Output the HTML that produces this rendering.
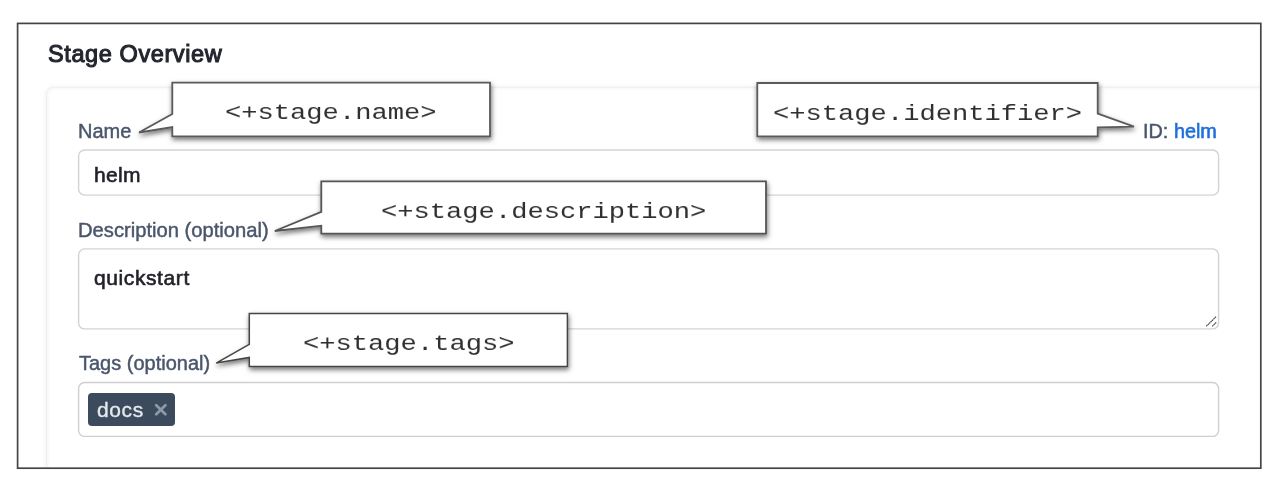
<!DOCTYPE html>
<html>
<head>
<meta charset="utf-8">
<style>
html,body{margin:0;padding:0;background:#fff;}
body{width:1278px;height:488px;position:relative;overflow:hidden;font-family:"Liberation Sans",sans-serif;}
.t{position:absolute;white-space:nowrap;line-height:1;will-change:transform;}
.h{font-size:23.5px;color:#23262f;left:48.1px;top:42.9px;letter-spacing:0.6px;-webkit-text-stroke:1.05px #23262f;}
.lbl{font-size:20px;color:#4a566c;-webkit-text-stroke:0.45px #4a566c;}
.val{font-size:21px;color:#22222a;letter-spacing:0.6px;-webkit-text-stroke:0.6px #22222a;}
.chip{position:absolute;left:88px;top:393.4px;width:87px;height:32.2px;background:#3b4a5c;border-radius:4px;}
.mono{font-family:"Liberation Mono",monospace;font-size:27.12px;color:#303030;transform:scaleY(0.8);transform-origin:0 20.7px;}
</style>
</head>
<body>
<svg width="1278" height="488" style="position:absolute;left:0;top:0;">
  <defs>
    <clipPath id="fc"><rect x="18.5" y="24.3" width="1241.4" height="443"/></clipPath>
    <filter id="cb" x="-5%" y="-5%" width="110%" height="110%"><feGaussianBlur stdDeviation="1.5"/></filter>
  </defs>
  <g clip-path="url(#fc)" fill="none">
    <rect x="46.5" y="87.3" width="1240" height="420" rx="7" stroke="#000" stroke-opacity="0.04" stroke-width="3" filter="url(#cb)"/>
    <rect x="46.5" y="87.3" width="1240" height="420" rx="7" stroke="#efefef" stroke-width="1"/>
  </g>
  <rect x="17.6" y="23.4" width="1243.2" height="444.8" fill="none" stroke="#454545" stroke-width="1.7"/>
  <g fill="#fff" stroke="#d3d3d3" stroke-width="1.4">
    <rect x="78.6" y="150" width="1140" height="45.1" rx="6"/>
    <rect x="78.6" y="248.9" width="1140" height="80" rx="6"/>
    <rect x="78.6" y="382.5" width="1140" height="53.9" rx="6" stroke="#cfcfcf"/>
  </g>
</svg>
<div class="t h">Stage Overview</div>

<div class="t lbl" style="left:77.7px;top:120.6px;">Name</div>
<div class="t lbl" style="left:1142.5px;top:121.9px;font-size:19.85px;">ID: <span style="color:#1f6fdb;-webkit-text-stroke:0.6px #1f6fdb;">helm</span></div>
<div class="t val" style="left:93.8px;top:163.6px;letter-spacing:0.3px;">helm</div>

<div class="t lbl" style="left:77.6px;top:219.6px;font-size:20.2px;">Description (optional)</div>
<div class="t val" style="left:93.8px;top:266.6px;">quickstart</div>

<div class="t lbl" style="left:78.6px;top:352.7px;">Tags (optional)</div>
<div class="chip"></div>
<div class="t val" style="left:96.8px;top:398.9px;color:#e6e9ed;-webkit-text-stroke:0.35px #e6e9ed;">docs</div>

<svg width="1278" height="488" style="position:absolute;left:0;top:0;">
  <defs>
    <filter id="ds" x="-20%" y="-50%" width="140%" height="200%">
      <feDropShadow dx="0.8" dy="2.6" stdDeviation="2.4" flood-color="#000" flood-opacity="0.55"/>
    </filter>
  </defs>
  <!-- x icon -->
  <path d="M156.2,405.3 L165.4,414.3 M165.4,405.3 L156.2,414.3" stroke="#8e9aa7" stroke-width="2.7" stroke-linecap="round" fill="none"/>
  <!-- resize handle -->
  <path d="M1206.3,326.3 L1216.3,316.5 M1212.3,326.3 L1216.3,322.3" stroke="#4a4a4a" stroke-width="1.2" stroke-dasharray="1.6 0.4" fill="none"/>
  <g filter="url(#ds)" fill="#fff" stroke="#5a5a5a" stroke-width="1.8" stroke-linejoin="miter">
    <path d="M172.3,82.7 H490 V136.4 H172.3 V127 L139,132.5 L172.3,114 Z"/>
    <path d="M757.3,83 H1097.7 V113.7 L1134,126.6 L1097.7,127.4 V136.4 H757.3 Z"/>
    <path stroke="#555" d="M321.3,181.3 H766 V233.6 H321.3 V225.7 L274.8,231 L321.3,211.8 Z"/>
    <path stroke="#454545" stroke-width="1.5" d="M249.3,313.5 H567.4 V366.5 H249.3 V357.4 L216.2,363.1 L249.3,344.3 Z"/>
  </g>
</svg>
<div class="t mono" style="left:225.45px;top:98.1px;">&lt;+stage.name&gt;</div>
<div class="t mono" style="left:772.65px;top:98.8px;">&lt;+stage.identifier&gt;</div>
<div class="t mono" style="left:380.95px;top:197px;">&lt;+stage.description&gt;</div>
<div class="t mono" style="left:302.75px;top:328.8px;">&lt;+stage.tags&gt;</div>
</body>
</html>
